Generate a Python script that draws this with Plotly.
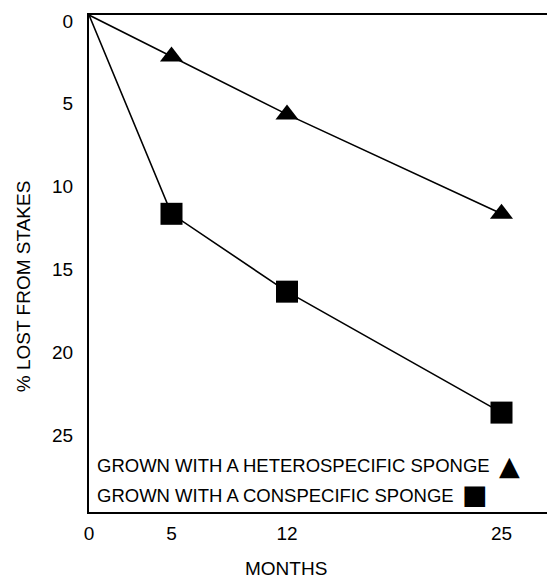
import plotly.graph_objects as go

months = [0, 5, 12, 25]
hetero = [0, 2.5, 6.0, 12.0]
conspec = [0, 12.0, 16.7, 24.0]
x_ticks = [0, 5, 12, 25]
y_ticks = [0, 5, 10, 15, 20, 25]
label_hetero = "GROWN WITH A HETEROSPECIFIC SPONGE"
label_conspec = "GROWN WITH A CONSPECIFIC SPONGE"

FONT = "Liberation Sans, Arial, sans-serif"

fig = go.Figure()
fig.add_trace(go.Scatter(
    x=months, y=hetero, mode="lines", line=dict(color="black", width=1.6),
    showlegend=False, hoverinfo="skip"))
fig.add_trace(go.Scatter(
    x=months[1:], y=hetero[1:], mode="markers", name=label_hetero,
    marker=dict(symbol="triangle-up", size=20, color="black"), showlegend=False))
fig.add_trace(go.Scatter(
    x=months, y=conspec, mode="lines", line=dict(color="black", width=1.6),
    showlegend=False, hoverinfo="skip"))
fig.add_trace(go.Scatter(
    x=months[1:], y=conspec[1:], mode="markers", name=label_conspec,
    marker=dict(symbol="square", size=22, color="black"), showlegend=False))

fig.update_layout(
    width=547, height=572,
    margin=dict(l=81, r=2, t=7, b=68),
    paper_bgcolor="white", plot_bgcolor="white",
    font=dict(family=FONT, color="black", size=18),
    xaxis=dict(range=[0, 28], tickvals=x_ticks, showgrid=False, zeroline=False,
               showline=True, linecolor="black", linewidth=2, mirror=True,
               ticks="", tickfont=dict(size=19), ticklabelstandoff=3),
    yaxis=dict(range=[30, 0], tickvals=y_ticks, showgrid=False, zeroline=False,
               showline=True, linecolor="black", linewidth=2, mirror=True,
               ticks="", tickfont=dict(size=19), ticklabelstandoff=10,
               ticklabelshift=-6),
    annotations=[
        dict(text=label_hetero, xref="x domain", yref="y domain",
             x=0.013, y=0.0926, xanchor="left", yanchor="middle",
             showarrow=False, font=dict(size=18.5)),
        dict(text="\u25B2", xref="x domain", yref="y domain",
             x=0.911, y=0.0926, xanchor="center", yanchor="middle",
             showarrow=False, font=dict(size=27, family="DejaVu Sans")),
        dict(text=label_conspec, xref="x domain", yref="y domain",
             x=0.013, y=0.034, xanchor="left", yanchor="middle",
             showarrow=False, font=dict(size=18.5)),
        dict(text="\u25A0", xref="x domain", yref="y domain",
             x=0.836, y=0.036, xanchor="center", yanchor="middle",
             showarrow=False, font=dict(size=27, family="DejaVu Sans")),
        dict(text="MONTHS", xref="paper", yref="paper", x=0.427, y=-0.113,
             xanchor="center", yanchor="middle", showarrow=False,
             font=dict(size=19)),
        dict(text="% LOST FROM STAKES", xref="paper", yref="paper", x=-0.14,
             y=0.455, xanchor="center", yanchor="middle", textangle=-90,
             showarrow=False, font=dict(size=19)),
    ],
)

fig.write_html("out.html")
